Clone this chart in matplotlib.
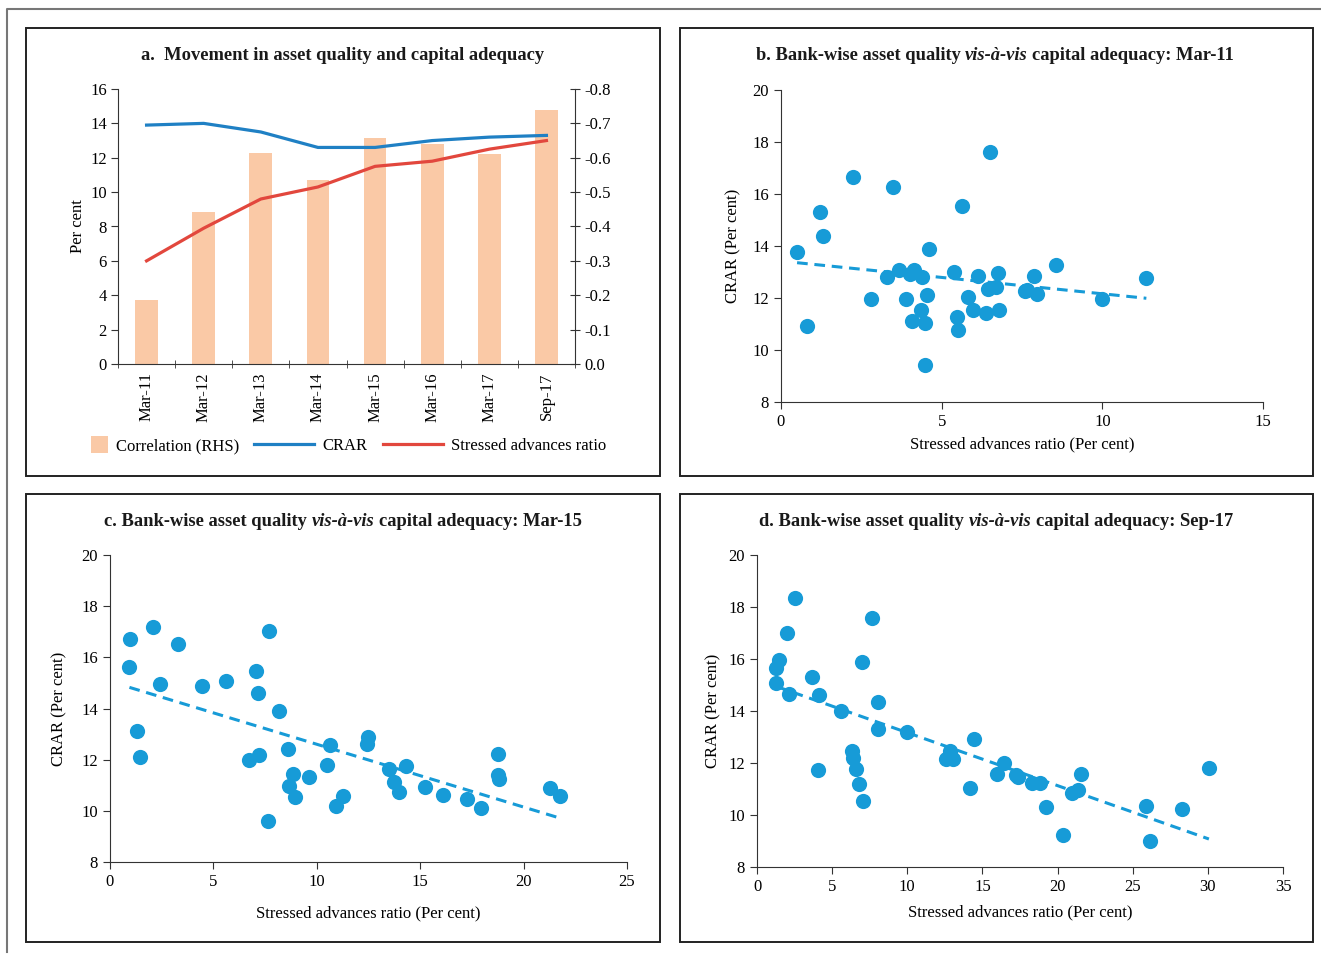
import matplotlib
matplotlib.use('Agg')
import matplotlib.pyplot as plt
import numpy as np
from matplotlib.patches import Rectangle
from matplotlib.lines import Line2D
from matplotlib.legend_handler import HandlerPatch, update_from_first_child

plt.rcParams['font.family'] = ['Liberation Serif', 'DejaVu Serif']

# ---------------- data ----------------
periods = ['Mar-11', 'Mar-12', 'Mar-13', 'Mar-14', 'Mar-15', 'Mar-16', 'Mar-17', 'Sep-17']
crar = [13.9, 14.0, 13.5, 12.6, 12.6, 13.0, 13.2, 13.3]
stressed_ratio = [6.0, 7.9, 9.6, 10.3, 11.5, 11.8, 12.5, 13.0]
correlation = [-0.185, -0.443, -0.614, -0.536, -0.657, -0.640, -0.611, -0.738]

mar11_sar = [0.50, 0.81, 1.22, 1.32, 2.25, 2.79, 3.31, 3.47, 3.67, 3.90, 4.03, 4.15, 4.09,
             4.38, 4.37, 4.47, 4.53, 4.48, 4.61, 5.39, 5.49, 5.52, 5.62, 5.81, 5.99, 6.12,
             6.38, 6.45, 6.49, 6.68, 6.76, 6.78, 7.59, 7.66, 7.86, 7.98, 8.55, 9.99, 11.37]
mar11_crar = [13.78, 10.93, 15.31, 14.39, 16.64, 11.96, 12.80, 16.25, 13.08, 11.96, 12.92, 13.06, 11.10,
              12.80, 11.55, 11.03, 12.10, 9.41, 13.87, 13.01, 11.25, 10.78, 15.54, 12.05, 11.52, 12.85,
              11.43, 12.34, 17.62, 12.44, 12.98, 11.53, 12.28, 12.30, 12.83, 12.17, 13.28, 11.96, 12.78]

mar15_sar = [0.98, 0.94, 1.31, 1.46, 2.09, 2.44, 3.31, 4.44, 5.63, 6.70, 7.06, 7.15, 7.19, 7.69,
             7.65, 8.15, 8.59, 8.67, 8.83, 8.96, 9.63, 10.50, 10.63, 10.93, 11.26, 12.41, 12.46,
             13.48, 13.74, 13.98, 14.31, 15.24, 16.11, 17.24, 17.96, 18.76, 18.76, 18.81, 21.30, 21.76]
mar15_crar = [16.72, 15.62, 13.13, 12.09, 17.17, 14.94, 16.52, 14.87, 15.09, 11.99, 15.47, 14.62, 12.18, 17.03,
              9.60, 13.89, 12.42, 10.98, 11.44, 10.55, 11.34, 11.78, 12.57, 10.20, 10.57, 12.60, 12.89,
              11.65, 11.11, 10.72, 11.77, 10.94, 10.62, 10.45, 10.12, 12.21, 11.41, 11.24, 10.91, 10.57]

sep17_sar = [1.28, 1.48, 1.28, 2.12, 1.99, 2.55, 3.65, 4.13, 4.08, 5.59, 6.30, 6.41, 6.61, 6.79,
             7.04, 6.97, 7.68, 8.04, 8.07, 9.98, 12.56, 12.86, 13.02, 14.19, 14.45, 15.95, 16.46,
             17.25, 17.40, 18.27, 18.81, 19.24, 20.37, 20.98, 21.36, 21.57, 25.91, 26.14, 28.25, 30.07]
sep17_crar = [15.65, 15.96, 15.09, 14.65, 17.00, 18.35, 15.32, 14.63, 11.74, 13.99, 12.47, 12.18, 11.77, 11.18,
              10.55, 15.87, 17.56, 14.36, 13.29, 13.18, 12.17, 12.47, 12.17, 11.04, 12.92, 11.59, 12.00,
              11.55, 11.45, 11.24, 11.24, 10.32, 9.22, 10.86, 10.96, 11.58, 10.35, 8.99, 10.24, 11.81]

titles = {
    'a': [('a.  Movement in asset quality and capital adequacy', 'normal')],
    'b': [('b. Bank-wise asset quality', 'normal'), ('vis-à-vis', 'italic'), ('capital adequacy: Mar-11', 'normal')],
    'c': [('c. Bank-wise asset quality', 'normal'), ('vis-à-vis', 'italic'), ('capital adequacy: Mar-15', 'normal')],
    'd': [('d. Bank-wise asset quality', 'normal'), ('vis-à-vis', 'italic'), ('capital adequacy: Sep-17', 'normal')],
}

# ---------------- styling ----------------
W, H = 1321, 955
fig = plt.figure(figsize=(W / 100, H / 100), dpi=100)
TICK_FS = 12
LABEL_FS = 12
TITLE_FS = 13.3
DOT = '#179bd7'
SPINE = '#333333'


def px_axes(l, t, r, b):
    return fig.add_axes([l / W, 1 - b / H, (r - l) / W, (b - t) / H])


def box(l, t, r, b, color='#222222', lw=1.4):
    fig.add_artist(Rectangle((l / W, 1 - b / H), (r - l) / W, (b - t) / H,
                             transform=fig.transFigure, fill=False, ec=color, lw=lw))


renderer = fig.canvas.get_renderer()


def text_width(s, style):
    t = fig.text(0, 0, s, fontsize=TITLE_FS, fontweight='bold', fontstyle=style)
    w = t.get_window_extent(renderer).width
    t.remove()
    return w


def mixed_title(parts, cx, cy):
    space = text_width('x x', 'normal') - text_width('xx', 'normal')
    widths = [text_width(s, st) for s, st in parts]
    total = sum(widths) + space * (len(parts) - 1)
    x = cx - total / 2
    for (s, st), w in zip(parts, widths):
        fig.text(x / W, 1 - cy / H, s, fontsize=TITLE_FS, fontweight='bold', fontstyle=st,
                 ha='left', va='center', color='#1a1a1a')
        x += w + space


# outer frame and panel boxes
fig.add_artist(Line2D([7 / W, 7 / W, 1], [1 - 952 / H, 1 - 9 / H, 1 - 9 / H],
                      transform=fig.transFigure, color='#777777', lw=1.5))
box(26, 28, 660, 476)
box(680, 28, 1313, 476)
box(26, 494, 660, 942)
box(680, 494, 1313, 942)

# ---------------- panel a ----------------
ax = px_axes(118, 89, 575, 364)
ax2 = ax.twinx()
x = np.arange(len(periods))
bars = ax2.bar(x, correlation, width=0.4, color='#fac9a6', zorder=1)
ax2.set_ylim(0, -0.8)
rt = np.round(np.arange(0, -0.81, -0.1), 1)
ax2.set_yticks(rt)
ax2.set_yticklabels(['0.0' if abs(v) < 1e-9 else f'{v:.1f}' for v in rt], fontsize=TICK_FS)
ax.set_zorder(ax2.get_zorder() + 1)
ax.patch.set_visible(False)
l1, = ax.plot(x, crar, color='#1f80c4', lw=2.3)
l2, = ax.plot(x, stressed_ratio, color='#e2473d', lw=2.3)
ax.set_ylim(0, 16)
ax.set_yticks(np.arange(0, 17, 2))
ax.tick_params(axis='y', labelsize=TICK_FS, length=5, color=SPINE, pad=3)
ax.set_xlim(-0.5, len(periods) - 0.5)
ax.set_xticks(x)
ax.set_xticklabels(periods, rotation=90, fontsize=TICK_FS)
ax.tick_params(axis='x', which='major', length=0, pad=6)
ax.set_xticks(np.arange(-0.5, len(periods), 1), minor=True)
ax.tick_params(axis='x', which='minor', length=6, direction='inout', color=SPINE)
ax2.tick_params(axis='y', length=7, direction='inout', color=SPINE, pad=3)
for a in (ax, ax2):
    a.spines['top'].set_visible(False)
    for s in a.spines.values():
        s.set_color(SPINE)
ax.spines['right'].set_visible(False)
ax2.spines['left'].set_visible(False)
ax2.spines['bottom'].set_visible(False)
ax.set_ylabel('Per cent', fontsize=LABEL_FS, labelpad=3)


def square(legend, orig_handle, xdescent, ydescent, width, height, fontsize):
    sq = height * 1.45
    return Rectangle((-xdescent + width - sq, -ydescent + (height - sq) / 2), sq, sq)


ax.legend(handles=[bars, l1, l2], labels=['Correlation (RHS)', 'CRAR', 'Stressed advances ratio'],
          handler_map={bars: HandlerPatch(patch_func=square, update_func=update_from_first_child)},
          loc='center', bbox_to_anchor=(327 / W, 1 - 446 / H), bbox_transform=fig.transFigure,
          ncol=3, frameon=False, fontsize=LABEL_FS, handlelength=3.6, handletextpad=0.5,
          columnspacing=0.9)
mixed_title(titles['a'], 343, 56)


# ---------------- scatter panels ----------------
def scatter_panel(rect, xs, ys, xmax, xpad, ypad, title, tcx, tcy):
    a = px_axes(*rect)
    xs = np.asarray(xs)
    ys = np.asarray(ys)
    slope, inter = np.polyfit(xs, ys, 1)
    xl = np.array([xs.min(), xs.max()])
    a.plot(xl, slope * xl + inter, ls=(0, (3.5, 2.2)), color=DOT, lw=2.2, zorder=2)
    a.scatter(xs, ys, s=120, color=DOT, linewidths=0, zorder=3)
    a.set_xlim(0, xmax)
    a.set_ylim(8, 20)
    a.set_xticks(np.arange(0, xmax + 0.1, 5))
    a.set_yticks(np.arange(8, 21, 2))
    a.tick_params(labelsize=TICK_FS, length=5, color=SPINE)
    for s in ('top', 'right'):
        a.spines[s].set_visible(False)
    for s in ('left', 'bottom'):
        a.spines[s].set_color(SPINE)
    a.set_xlabel('Stressed advances ratio (Per cent)', fontsize=LABEL_FS, labelpad=xpad)
    a.set_ylabel('CRAR (Per cent)', fontsize=LABEL_FS, labelpad=ypad)
    mixed_title(title, tcx, tcy)
    return a


scatter_panel((781, 90, 1263, 402), mar11_sar, mar11_crar, 15, 5, 8, titles['b'], 995, 56)
scatter_panel((110, 555, 627, 862), mar15_sar, mar15_crar, 25, 11, 10, titles['c'], 343, 522)
scatter_panel((757, 555, 1283, 867), sep17_sar, sep17_crar, 35, 7, 5, titles['d'], 996, 522)

fig.savefig('out.png', dpi=100)
